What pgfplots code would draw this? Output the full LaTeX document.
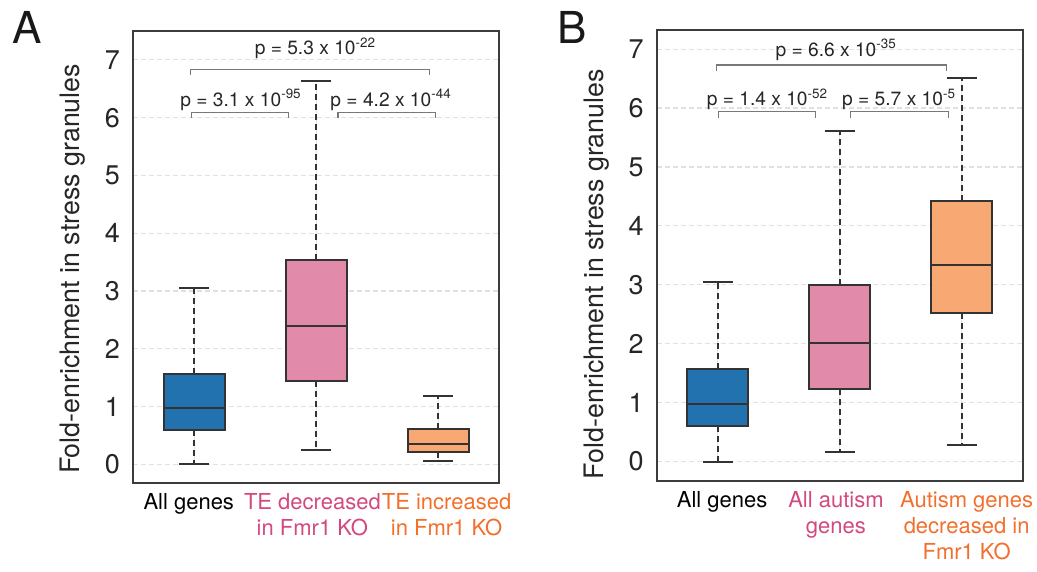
\documentclass[border=0pt]{standalone}
\usepackage{fontspec}
\setmainfont{TeX Gyre Heros}
\usepackage{pgfplots}
\pgfplotsset{compat=1.18}
\usepgfplotslibrary{statistics}

\definecolor{boxBlue}{RGB}{34,114,176}
\definecolor{boxPink}{RGB}{226,138,169}
\definecolor{boxOrange}{RGB}{247,168,115}
\definecolor{labPink}{RGB}{211,73,127}
\definecolor{labOrange}{RGB}{242,111,44}
\definecolor{edge}{RGB}{51,51,51}
\definecolor{frame}{RGB}{60,60,60}
\definecolor{brk}{RGB}{120,120,120}

\tikzset{
  pval/.style={font=\fontsize{9.6bp}{12bp}\selectfont,text=black!85,anchor=base,inner sep=0pt},
  bracket/.style={draw=brk,line width=0.6bp},
}

\pgfplotsset{
  sgpanel/.style={
    scale only axis,
    width=182.85bp,
    xmin=0.5,xmax=3.5,
    ytick={0,1,...,7},
    major tick length=0pt,
    axis line style={draw=frame,line width=0.9bp},
    ymajorgrids=true,
    grid style={draw=black!12,line width=0.6bp,dash pattern=on 2.5bp off 1.5bp},
    /pgf/number format/assume math mode=true,
    yticklabel style={font=\fontsize{13.5bp}{15bp}\selectfont,text=black!85,inner sep=0pt,xshift=-6.5bp},
    xticklabel style={font=\fontsize{11bp}{13bp}\selectfont,align=center,anchor=north,inner sep=0pt,yshift=-5bp},
    ylabel={Fold-enrichment in stress granules},
    ylabel style={font=\fontsize{13.4bp}{15bp}\selectfont,text=black!85,anchor=center},
    boxplot/draw direction=y,
    boxplot/box extend=0.5,
    boxplot/whisker extend=0.25,
    boxplot/draw/lower whisker/.code={%
      \draw[edge,line width=1bp,dash pattern=on 3bp off 2bp]
        (boxplot cs:\pgfplotsboxplotvalue{lower quartile}) --
        (boxplot cs:\pgfplotsboxplotvalue{lower whisker});
      \draw[edge,line width=1bp]
        (boxplot whisker cs:\pgfplotsboxplotvalue{lower whisker},0) --
        (boxplot whisker cs:\pgfplotsboxplotvalue{lower whisker},1);
    },
    boxplot/draw/upper whisker/.code={%
      \draw[edge,line width=1bp,dash pattern=on 3bp off 2bp]
        (boxplot cs:\pgfplotsboxplotvalue{upper quartile}) --
        (boxplot cs:\pgfplotsboxplotvalue{upper whisker});
      \draw[edge,line width=1bp]
        (boxplot whisker cs:\pgfplotsboxplotvalue{upper whisker},0) --
        (boxplot whisker cs:\pgfplotsboxplotvalue{upper whisker},1);
    },
    every boxplot/.style={draw=edge,line width=1bp},
  },
}

\begin{document}
\begin{tikzpicture}
\useasboundingbox (0,0) rectangle (518.5bp,286bp);
\node[anchor=base west,inner sep=0pt,font=\fontsize{22bp}{24bp}\selectfont,text=black!90] at (6.0bp,264.35bp) {A};
\node[anchor=base west,inner sep=0pt,font=\fontsize{22bp}{24bp}\selectfont,text=black!90] at (278.5bp,264.35bp) {B};

% panel A
\begin{axis}[sgpanel,
  at={(66.65bp,44.35bp)},anchor=south west,
  height=226.15bp,
  ymin=-0.33,ymax=7.5,
  xtick={0.955,1.969,3.07},
  xticklabels={{All genes},{\textcolor{labPink}{TE decreased}\\\textcolor{labPink}{in Fmr1 KO}},{\textcolor{labOrange}{TE increased}\\\textcolor{labOrange}{in Fmr1 KO}}},
  ylabel style={at={(axis description cs:-0.165,0.474)}},
]
\addplot[fill=boxBlue,boxplot prepared={draw position=1,lower whisker=0,lower quartile=0.59,median=0.976,upper quartile=1.57,upper whisker=3.05}] coordinates {};
\addplot[fill=boxPink,boxplot prepared={draw position=2,lower whisker=0.25,lower quartile=1.44,median=2.39,upper quartile=3.54,upper whisker=6.64}] coordinates {};
\addplot[fill=boxOrange,boxplot prepared={draw position=3,lower whisker=0.05,lower quartile=0.22,median=0.35,upper quartile=0.61,upper whisker=1.18}] coordinates {};
\draw[bracket] (axis cs:0.967,6.74) -- (axis cs:0.967,6.84) -- (axis cs:2.93,6.84) -- (axis cs:2.93,6.74);
\draw[bracket] (axis cs:0.98,6.0) -- (axis cs:0.98,6.09) -- (axis cs:1.776,6.09) -- (axis cs:1.776,6.0);
\draw[bracket] (axis cs:2.18,6.0) -- (axis cs:2.18,6.09) -- (axis cs:2.98,6.09) -- (axis cs:2.98,6.0);
\node[pval] at (axis cs:1.994,7.09) {p = 5.3 x 10\textsuperscript{-22}};
\node[pval] at (axis cs:1.384,6.20) {p = 3.1 x 10\textsuperscript{-95}};
\node[pval] at (axis cs:2.615,6.20) {p = 4.2 x 10\textsuperscript{-44}};
\end{axis}

% panel B
\begin{axis}[sgpanel,
  at={(328.5bp,45.5bp)},anchor=south west,
  height=225.35bp,
  ymin=-0.33,ymax=7.32,
  xtick={1.034,1.968,3.04},
  xticklabels={{All genes},{\textcolor{labPink}{All autism}\\\textcolor{labPink}{genes}},{\textcolor{labOrange}{Autism genes}\\\textcolor{labOrange}{decreased in}\\\textcolor{labOrange}{Fmr1 KO}}},
  ylabel style={at={(axis description cs:-0.165,0.459)}},
]
\addplot[fill=boxBlue,boxplot prepared={draw position=1,lower whisker=0,lower quartile=0.60,median=0.98,upper quartile=1.57,upper whisker=3.05}] coordinates {};
\addplot[fill=boxPink,boxplot prepared={draw position=2,lower whisker=0.17,lower quartile=1.23,median=2.01,upper quartile=2.99,upper whisker=5.61}] coordinates {};
\addplot[fill=boxOrange,boxplot prepared={draw position=3,lower whisker=0.28,lower quartile=2.52,median=3.33,upper quartile=4.43,upper whisker=6.51}] coordinates {};
\draw[bracket] (axis cs:0.99,6.63) -- (axis cs:0.99,6.73) -- (axis cs:2.875,6.73) -- (axis cs:2.875,6.63);
\draw[bracket] (axis cs:1.006,5.83) -- (axis cs:1.006,5.94) -- (axis cs:1.80,5.94) -- (axis cs:1.80,5.83);
\draw[bracket] (axis cs:2.09,5.83) -- (axis cs:2.09,5.94) -- (axis cs:2.89,5.94) -- (axis cs:2.89,5.83);
\node[pval] at (axis cs:1.97,6.88) {p = 6.6 x 10\textsuperscript{-35}};
\node[pval] at (axis cs:1.406,6.04) {p = 1.4 x 10\textsuperscript{-52}};
\node[pval] at (axis cs:2.486,6.04) {p = 5.7 x 10\textsuperscript{-5}};
\end{axis}
\end{tikzpicture}
\end{document}
